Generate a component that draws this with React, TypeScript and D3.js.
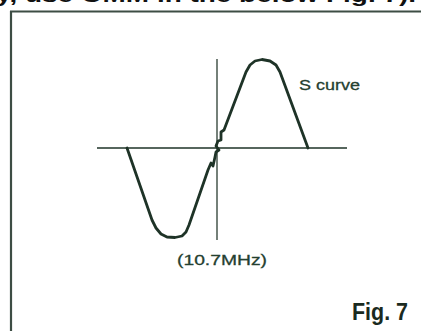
import React from "react";
import * as d3 from "d3";

// S-curve sampled points: frequency offset (relative to 10.7MHz) and output level
const freqOffsets = [-90, -65, -61, -56, -50, -42, -35, -31, -28, -9, -6, -4, -2, -1, 2, -1, 1, 4, 4, 7, 29, 33, 38, 45, 53, 59, 63, 91];
const outputLevels = [0, -72, -80, -86, -89, -89.5, -88, -84, -77, -22, -15, -18, -9, -4, -2, 2, 7, 8, 16, 18, 76, 83, 87, 88.5, 87, 83, 76, 0];

const xDomain = [-120, 130];
const yDomain = [-100, 100];
const headerText = "y, use OMM in the below  Fig. 7).";
const curveLabel = "S curve";
const centerLabel = "(10.7MHz)";
const figLabel = "Fig. 7";

const W = 421;
const H = 331;

export default function App() {
  const x = d3.scaleLinear().domain(xDomain).range([97, 347]);
  const y = d3.scaleLinear().domain(yDomain).range([248, 48]);
  const pts: [number, number][] = freqOffsets.map((f, i) => [f, outputLevels[i]]);
  const line = d3
    .line<[number, number]>()
    .x((d) => x(d[0]))
    .y((d) => y(d[1]))
    .curve(d3.curveLinear);
  const ink = "#1e3327";
  const font = "'Liberation Sans', Arial, sans-serif";
  return (
    <svg
      width={W}
      height={H}
      style={{ position: "absolute", left: 0, top: 0, background: "#fff" }}
    >
      <text
        x={-4}
        y={2}
        fontFamily={font}
        fontWeight="bold"
        fontSize={20}
        fill="#111"
        textLength={420}
        lengthAdjust="spacingAndGlyphs"
      >
        {headerText}
      </text>
      {/* frame */}
      <line x1={10} y1={11.5} x2={W} y2={11.5} stroke="#3d4d44" strokeWidth={2} />
      <line x1={11} y1={11} x2={11} y2={H} stroke="#3d4d44" strokeWidth={2.2} />
      {/* axes */}
      <line x1={x(-120)} y1={y(0)} x2={x(130)} y2={y(0)} stroke={ink} strokeWidth={1.6} />
      <line x1={x(0)} y1={y(89)} x2={x(0)} y2={y(-92)} stroke="#3a4a40" strokeWidth={1.4} />
      {/* S curve */}
      <path
        d={line(pts) || ""}
        fill="none"
        stroke={ink}
        strokeWidth={2.8}
        strokeLinejoin="round"
        strokeLinecap="round"
      />
      <text
        x={299}
        y={90}
        fontFamily={font}
        fontSize={15}
        fill="#244030"
        stroke="#244030"
        strokeWidth={0.3}
        textLength={61}
        lengthAdjust="spacingAndGlyphs"
      >
        {curveLabel}
      </text>
      <text
        x={177}
        y={265}
        fontFamily={font}
        fontSize={15}
        fill="#244030"
        stroke="#244030"
        strokeWidth={0.3}
        textLength={90}
        lengthAdjust="spacingAndGlyphs"
      >
        {centerLabel}
      </text>
      <text
        x={352}
        y={320}
        fontFamily={font}
        fontWeight="bold"
        fontSize={24}
        fill="#1a2a20"
        textLength={56}
        lengthAdjust="spacingAndGlyphs"
      >
        {figLabel}
      </text>
    </svg>
  );
}
